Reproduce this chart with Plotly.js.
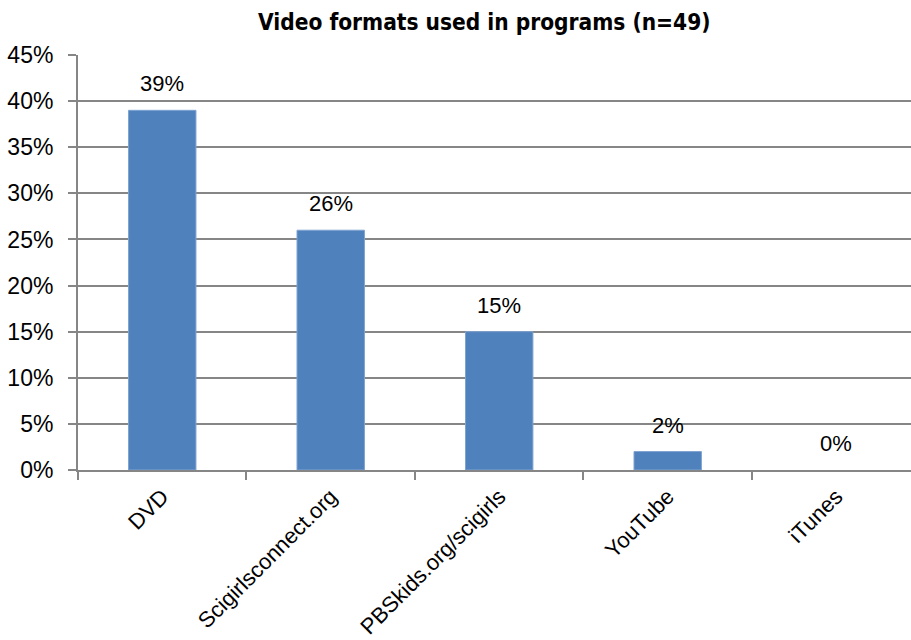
<!DOCTYPE html>
<html>
<head>
<meta charset="utf-8">
<script src="https://cdn.plot.ly/plotly-3.0.1.min.js"></script>
<style>html,body{margin:0;padding:0;background:#fff;}#chart{width:911px;height:640px;}</style>
</head>
<body>
<div id="chart"></div>
<script>
var categories = ["DVD", "Scigirlsconnect.org", "PBSkids.org/scigirls", "YouTube", "iTunes"];
var values = [0.39, 0.26, 0.15, 0.02, 0.00];
var valueLabels = ["39%", "26%", "15%", "2%", "0%"];
var yTickVals = [0, 0.05, 0.10, 0.15, 0.20, 0.25, 0.30, 0.35, 0.40, 0.45];
var yTickText = ["0%", "5%", "10%", "15%", "20%", "25%", "30%", "35%", "40%", "45%"];

var trace = {
  type: "bar",
  x: categories,
  y: values,
  width: 0.4,
  marker: {color: "#4F81BD", line: {color: "#7EA2D0", width: values.map(function (v) { return v > 0 ? 1 : 0; })}},
  hoverinfo: "skip"
};

var annotations = categories.map(function (c, i) {
  return {
    x: c, y: values[i], xref: "x", yref: "y",
    text: valueLabels[i], showarrow: false,
    yanchor: "bottom", yshift: 12,
    font: {family: "Liberation Sans, Arial, sans-serif", size: 22, color: "#000"}
  };
});
annotations.push({
  xref: "paper", yref: "paper", x: 0.487, y: 1, yshift: 33, xanchor: "center", yanchor: "middle",
  text: "<b>Video formats used in programs (n=49)</b>", showarrow: false,
  font: {family: "DejaVu Sans Condensed, Liberation Sans, sans-serif", size: 22.5, color: "#000"}
});

var layout = {
  width: 911, height: 640,
  margin: {l: 78, r: 0, t: 55, b: 170},
  paper_bgcolor: "#fff", plot_bgcolor: "#fff",
  showlegend: false,
  annotations: annotations,
  xaxis: {
    type: "category",
    range: [-0.5, 4.444],
    tickson: "boundaries",
    ticks: "outside", ticklen: 8, tickwidth: 2, tickcolor: "#868686",
    showline: true, linecolor: "#868686", linewidth: 2,
    showgrid: false, zeroline: false,
    tickangle: -45,
    ticklabelstandoff: 3,
    tickfont: {family: "Liberation Sans, Arial, sans-serif", size: 22, color: "#000"},
    fixedrange: true
  },
  yaxis: {
    range: [0, 0.45],
    tickvals: yTickVals, ticktext: yTickText,
    ticks: "outside", ticklen: 8, tickwidth: 2, tickcolor: "#868686",
    showline: true, linecolor: "#868686", linewidth: 2,
    showgrid: true, gridcolor: "#868686", gridwidth: 2,
    zeroline: false,
    ticklabelstandoff: 10,
    tickfont: {family: "Liberation Sans, Arial, sans-serif", size: 23, color: "#000"},
    fixedrange: true
  }
};

Plotly.newPlot("chart", [trace], layout, {displayModeBar: false, staticPlot: true});
</script>
</body>
</html>
